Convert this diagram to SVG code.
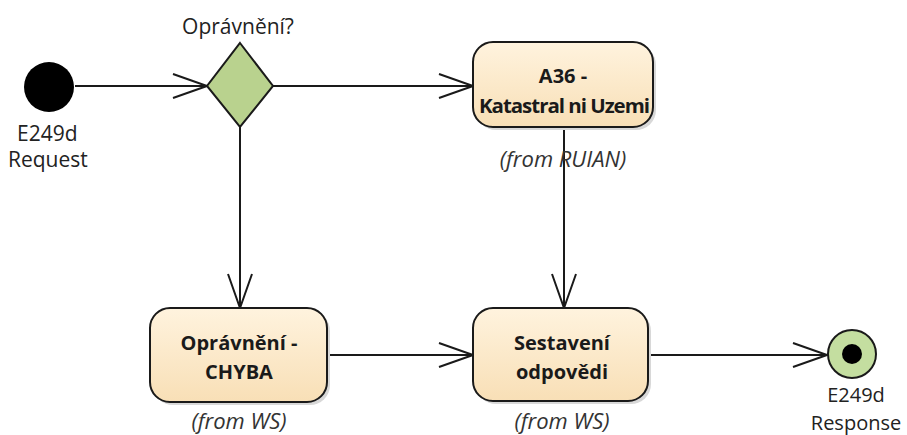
<svg xmlns="http://www.w3.org/2000/svg" width="907" height="435" viewBox="0 0 907 435">
<defs>
<style>
.act{fill:#FBE7C6;stroke:#1a1a1a;stroke-width:2}
.sh{fill:#d8d8d8}
.lbl{font-family:"Open Sans","Noto Sans",sans-serif;font-size:21px;fill:#222}
.bold{font-family:"Open Sans","Noto Sans",sans-serif;font-size:20px;font-weight:bold;fill:#1a1a1a;text-anchor:middle}
.it{font-family:"Open Sans","Noto Sans",sans-serif;font-size:22px;font-style:italic;fill:#333;text-anchor:middle}
.edge{stroke:#1a1a1a;stroke-width:2;fill:none}
</style>
<marker id="arr" viewBox="0 0 36 26" refX="35" refY="13" markerWidth="36" markerHeight="26" markerUnits="userSpaceOnUse" orient="auto">
<path d="M1,1 L35,13 L1,25" fill="none" stroke="#1a1a1a" stroke-width="2"/>
</marker>
<linearGradient id="g" x1="0" y1="0" x2="0" y2="1">
<stop offset="0" stop-color="#FFF3DE"/>
<stop offset="1" stop-color="#F8DFB6"/>
</linearGradient>
</defs>
<g id="connectors">
<line class="edge" x1="75" y1="86" x2="207" y2="86" marker-end="url(#arr)"/>
<line class="edge" x1="272" y1="86" x2="473" y2="86" marker-end="url(#arr)"/>
<line class="edge" x1="240" y1="127" x2="240" y2="308" marker-end="url(#arr)"/>
<line class="edge" x1="564" y1="127" x2="564" y2="308" marker-end="url(#arr)"/>
<line class="edge" x1="327" y1="355" x2="473" y2="355" marker-end="url(#arr)"/>
<line class="edge" x1="648" y1="355" x2="827" y2="355" marker-end="url(#arr)"/>
</g>
<g id="start">
<circle cx="49" cy="87" r="25" fill="#000"/>
<text class="lbl" x="17" y="141">E249d</text>
<text class="lbl" x="8" y="167">Request</text>
</g>
<g id="decision">
<polygon points="240,43 273,86 240,127 207,86" fill="#B9D28E" stroke="#1a1a1a" stroke-width="2"/>
<text class="lbl" x="238" y="34" text-anchor="middle">Oprávnění?</text>
</g>
<g id="a36">
<rect class="sh" x="476" y="45" width="180" height="85" rx="20"/>
<rect class="act" x="473" y="42" width="180" height="85" rx="20" style="fill:url(#g)"/>
<text class="bold" x="563" y="83">A36 -</text>
<text class="bold" x="564" y="113" textLength="170" lengthAdjust="spacingAndGlyphs" letter-spacing="-1">Katastral ni Uzemi</text>
<text class="it" x="563" y="167">(from RUIAN)</text>
</g>
<g id="chyba">
<rect class="sh" x="153" y="311" width="177" height="94" rx="20"/>
<rect class="act" x="150" y="308" width="177" height="94" rx="20" style="fill:url(#g)"/>
<text class="bold" x="239" y="350">Oprávnění -</text>
<text class="bold" x="239" y="379">CHYBA</text>
<text class="it" x="239" y="429">(from WS)</text>
</g>
<g id="sestaveni">
<rect class="sh" x="476" y="311" width="175" height="93" rx="20"/>
<rect class="act" x="473" y="308" width="175" height="93" rx="20" style="fill:url(#g)"/>
<text class="bold" x="562" y="350">Sestavení</text>
<text class="bold" x="562" y="379">odpovědi</text>
<text class="it" x="562" y="429">(from WS)</text>
</g>
<g id="end">
<circle cx="852" cy="354" r="24" fill="#C4DEA0" stroke="#1a1a1a" stroke-width="2"/>
<circle cx="852" cy="354" r="10" fill="#000"/>
<text class="lbl" x="856" y="402" text-anchor="middle" style="font-size:20px">E249d</text>
<text class="lbl" x="856" y="430" text-anchor="middle" style="font-size:20px">Response</text>
</g>
</svg>
